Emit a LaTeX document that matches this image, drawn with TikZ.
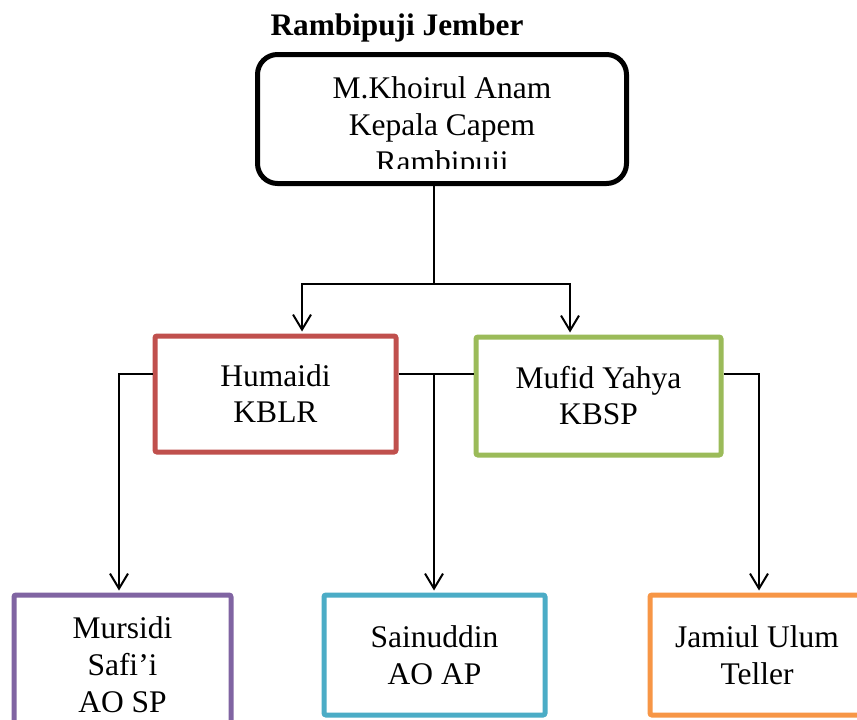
\documentclass[tikz,border=0pt]{standalone}
\usepackage{fontspec}
\setmainfont{Liberation Serif}
\usetikzlibrary{arrows.meta}
\definecolor{cred}{HTML}{C0504D}
\definecolor{cgreen}{HTML}{9BBB59}
\definecolor{cpurple}{HTML}{8064A2}
\definecolor{ccyan}{HTML}{4BACC6}
\definecolor{corange}{HTML}{F79646}
\begin{document}
\begin{tikzpicture}[x=1pt,y=-1pt,
  boxtext/.style={font=\fontsize{31.5}{37}\selectfont, align=center},
  cbox/.style={draw, line width=5pt, rounded corners=2pt, fill=white, inner sep=0pt,
    font=\fontsize{31.5}{37}\selectfont, align=center},
  conn/.style={line width=2pt},
  arr/.style={conn, -{Straight Barb[length=15pt,width=18pt,line width=2pt]}}]
\useasboundingbox (0,0) rectangle (857,720);
\clip (0,0) rectangle (857,720);
\fill[white] (0,0) rectangle (857,720);

\node[font=\fontsize{31.3}{37}\selectfont\bfseries, anchor=base] (title) at (397,35) {Rambipuji Jember};

\node[cbox, draw=black, line width=5pt, rounded corners=20pt, minimum width=369pt, minimum height=129pt] (top) at (442,119) {};
\begin{scope}
  \clip (250,50) rectangle (640,168);
  \node[boxtext] (toptext) at (442,128) {M.Khoirul Anam\\Kepala Capem\\Rambipuji};
\end{scope}

\node[cbox, draw=cred, minimum width=241pt, minimum height=116pt] (hum) at (275.5,394) {Humaidi\\[-1pt]KBLR};
\node[cbox, draw=cgreen, minimum width=245pt, minimum height=118pt] (muf) at (598.5,396) {Mufid Yahya\\[-1pt]KBSP};
\node[cbox, draw=cpurple, minimum width=217pt, minimum height=139pt] (mur) at (122.5,664.5) {Mursidi\\Safi’i\\AO SP};
\node[cbox, draw=ccyan, minimum width=221pt, minimum height=120pt] (sain) at (434.5,655) {Sainuddin\\AO AP};
\node[cbox, draw=corange, minimum width=214pt, minimum height=120pt] (jam) at (757,655) {Jamiul Ulum\\Teller};

\coordinate (bus) at (434,284);
\draw[conn] (top.south -| bus) -- (bus);
\draw[arr, shorten >=2pt] (bus) -| ([xshift=26.5pt]hum.north);
\draw[arr, shorten >=2pt] (bus) -| ([xshift=-28.5pt]muf.north);

\draw[arr, shorten >=2pt] ([yshift=20pt]hum.west) -| ([xshift=-3.5pt]mur.north);
\draw[conn] ([yshift=20pt]hum.east) -- ([yshift=20pt]hum.east -| muf.west);
\coordinate (mid) at ([yshift=20pt]hum.east -| bus);
\draw[arr, shorten >=2pt] (mid) -- (sain.north -| bus);
\draw[arr, shorten >=2pt] ([yshift=22pt]muf.east) -| ([xshift=2pt]jam.north);
\end{tikzpicture}
\end{document}
